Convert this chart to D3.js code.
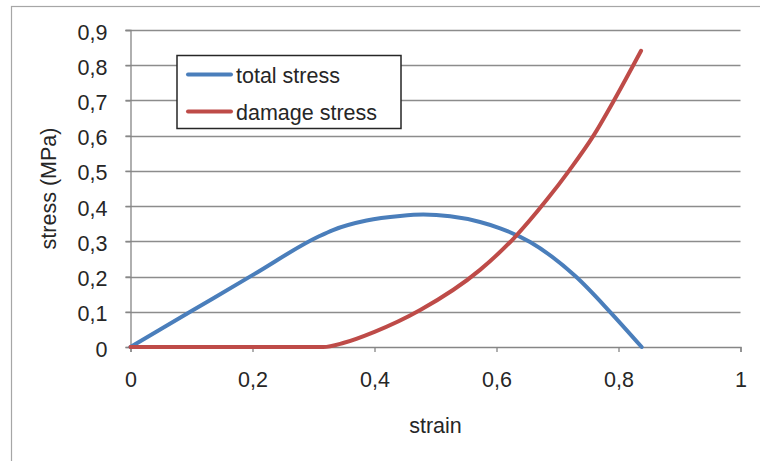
<!DOCTYPE html>
<html>
<head>
<meta charset="utf-8">
<script src="https://cdn.jsdelivr.net/npm/d3@7"></script>
<style>
  html, body { margin: 0; padding: 0; background: #fff; }
  svg { display: block; }
  text { font-family: "Liberation Sans", Arial, sans-serif; fill: #262626; }
</style>
</head>
<body>
<svg id="chart" width="760" height="461"></svg>
<script>
// ---- data ----
const seriesNames = ["total stress", "damage stress"];
const seriesColors = ["#4a7ebb", "#be4b48"];
const totalStrain = [0, 0.1, 0.2, 0.31, 0.332, 0.387, 0.442, 0.48, 0.524, 0.573, 0.606, 0.655, 0.73, 0.786, 0.838];
const totalStress = [0, 0.102, 0.204, 0.315, 0.332, 0.359, 0.372, 0.376, 0.371, 0.355, 0.337, 0.298, 0.2, 0.1, 0];
const damageStrain = [0, 0.1, 0.2, 0.316, 0.35, 0.40, 0.475, 0.573, 0.628, 0.682, 0.72, 0.759, 0.791, 0.837];
const damageStress = [0, 0, 0, 0, 0.012, 0.043, 0.105, 0.219, 0.308, 0.417, 0.503, 0.600, 0.695, 0.841];
const xTicks = [0, 0.2, 0.4, 0.6, 0.8, 1];
const yTicks = [0, 0.1, 0.2, 0.3, 0.4, 0.5, 0.6, 0.7, 0.8, 0.9];
const xTitle = "strain";
const yTitle = "stress (MPa)";

const fmt = v => String(+v.toFixed(1)).replace(".", ",");
const FS = 21.5;

const svg = d3.select("#chart");
const L = 130.5, R = 740.5, T = 30, B = 347;
const x = d3.scaleLinear().domain([0, 1]).range([L, R]);
const y = d3.scaleLinear().domain([0, 0.9]).range([B, T]);

// outer chart border
svg.append("rect").attr("x", 11.5).attr("y", 6.5).attr("width", 800).attr("height", 500)
  .attr("fill", "#fff").attr("stroke", "#a6a6a6").attr("stroke-width", 1.2);

// gridlines
svg.append("g").selectAll("line").data(yTicks.filter(d => d > 0)).join("line")
  .attr("x1", L - 5).attr("x2", R)
  .attr("y1", d => Math.round(y(d)) + 0.5).attr("y2", d => Math.round(y(d)) + 0.5)
  .attr("stroke", "#8c8c8c").attr("stroke-width", 1.3);

// y axis
const yAxis = svg.append("g").attr("transform", `translate(${L},0)`)
  .call(d3.axisLeft(y).tickValues(yTicks).tickSize(5).tickPadding(18).tickFormat(fmt));
yAxis.select(".domain").attr("stroke", "#868686").attr("stroke-width", 1.3);
yAxis.selectAll(".tick line").attr("stroke", "#868686").attr("stroke-width", 1.3);
yAxis.selectAll(".tick text").attr("font-size", FS).attr("fill", "#262626")
  .attr("font-family", "Liberation Sans, Arial, sans-serif").attr("dy", "0.42em");

// x axis
const xAxis = svg.append("g").attr("transform", `translate(0,${B})`)
  .call(d3.axisBottom(x).tickValues(xTicks).tickSize(5).tickPadding(20).tickFormat(fmt));
xAxis.select(".domain").attr("stroke", "#868686").attr("stroke-width", 1.3);
xAxis.selectAll(".tick line").attr("stroke", "#868686").attr("stroke-width", 1.3);
xAxis.selectAll(".tick text").attr("font-size", FS).attr("fill", "#262626")
  .attr("font-family", "Liberation Sans, Arial, sans-serif");

// lines
const line = d3.line().x(d => x(d[0])).y(d => y(d[1])).curve(d3.curveMonotoneX);
const totalData = totalStrain.map((s, i) => [s, totalStress[i]]);
const damageData = damageStrain.map((s, i) => [s, damageStress[i]]);
[totalData, damageData].forEach((data, i) => {
  svg.append("path").datum(data).attr("d", line)
    .attr("fill", "none").attr("stroke", seriesColors[i])
    .attr("stroke-width", 4).attr("stroke-linecap", "round").attr("stroke-linejoin", "round");
});

// axis titles
svg.append("text").attr("x", (L + R) / 2).attr("y", 433).attr("text-anchor", "middle")
  .attr("font-size", FS).text(xTitle);
svg.append("text").attr("transform", `translate(56,${(T + B) / 2}) rotate(-90)`)
  .attr("text-anchor", "middle").attr("font-size", FS).text(yTitle);

// legend
const lg = svg.append("g");
lg.append("rect").attr("x", 177).attr("y", 55.5).attr("width", 224).attr("height", 73)
  .attr("fill", "#fff").attr("stroke", "#262626").attr("stroke-width", 1.5);
const ly = [74.5, 111.5];
seriesNames.forEach((name, i) => {
  lg.append("line").attr("x1", 188).attr("x2", 231).attr("y1", ly[i]).attr("y2", ly[i])
    .attr("stroke", seriesColors[i]).attr("stroke-width", 4).attr("stroke-linecap", "round");
  lg.append("text").attr("x", 236).attr("y", ly[i] + 8.5).attr("font-size", FS).text(name);
});
</script>
</body>
</html>
